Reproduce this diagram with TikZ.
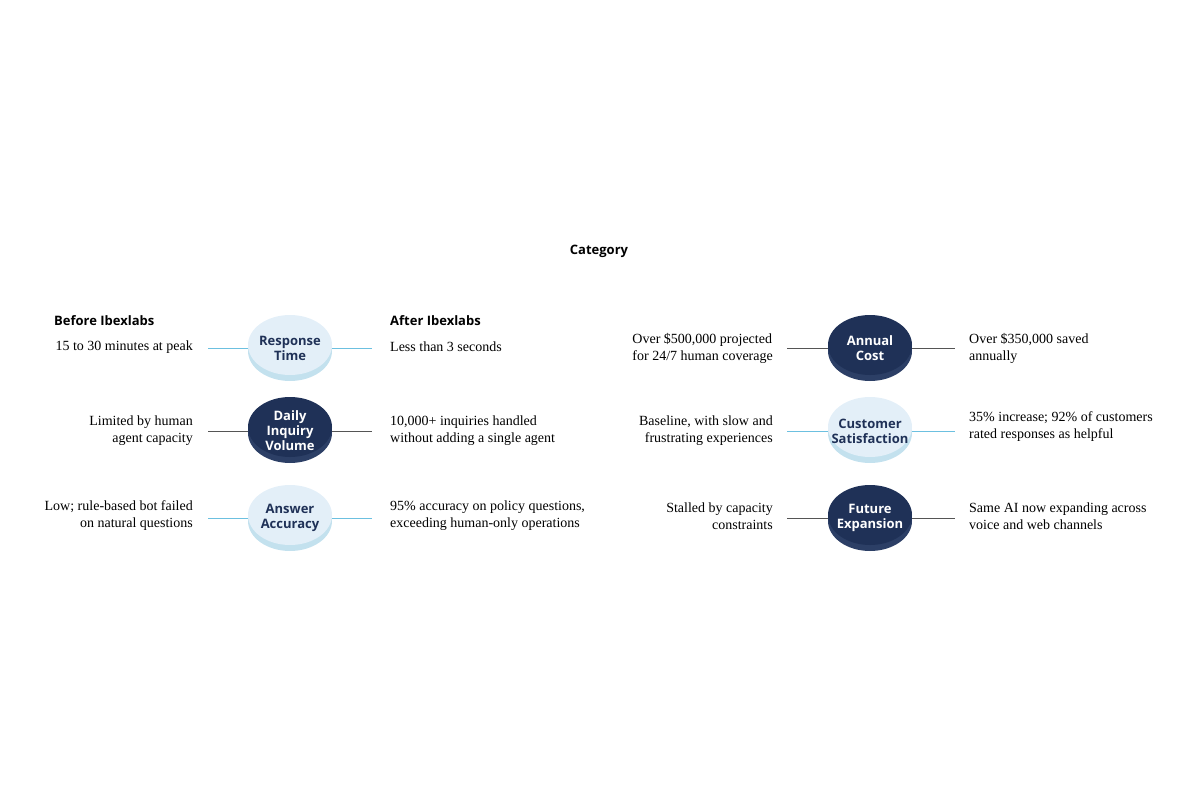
\documentclass[tikz,border=0pt]{standalone}
\usepackage{fontspec}
\setmainfont{Liberation Serif}
\setsansfont{Open Sans}
\definecolor{lt}{HTML}{E3EFF8}
\definecolor{ltb}{HTML}{C3E1EE}
\definecolor{dk}{HTML}{1F3157}
\definecolor{dkb}{HTML}{2C3F66}
\definecolor{bl}{HTML}{6CC0E0}
\definecolor{gr}{HTML}{555555}
\begin{document}
\begin{tikzpicture}[x=1pt,y=-1pt,
 txt/.style={font=\fontsize{14}{17}\selectfont,align=left,inner sep=0},
 hd/.style={font=\sffamily\bfseries\fontsize{13}{15}\selectfont,inner sep=0},
 dl/.style={font=\sffamily\bfseries\fontsize{13}{15}\selectfont,align=center,text=dk,inner sep=0},
 dd/.style={font=\sffamily\bfseries\fontsize{13}{15}\selectfont,align=center,text=white,inner sep=0},
 lb/.style={bl,line width=1pt},
 lg/.style={gr,line width=1pt}]
\useasboundingbox (0,0) rectangle (1200,800);
\newcommand\lightdisc[3]{%
 \fill[ltb] (#1,#2+6) ellipse [x radius=42,y radius=30];
 \fill[lt] (#1,#2) ellipse [x radius=42,y radius=30];
 \node[dl] (#3) at (#1,#2+3) {};}
\newcommand\darkdisc[3]{%
 \fill[dkb] (#1,#2+6) ellipse [x radius=42,y radius=30];
 \fill[dk] (#1,#2) ellipse [x radius=42,y radius=30];
 \node[dd] (#3) at (#1,#2+3) {};}
\node[hd] (cat) at (599,251) {Category};
\node[hd,anchor=west] (bef) at (54,321) {Before Ibexlabs};
\node[hd,anchor=west] (aft) at (390,321) {After Ibexlabs};
% row 1
\lightdisc{290}{345}{d1}
\node[dl] (t1) at (290,348) {Response\\Time};
\coordinate (a1) at (208,348); \coordinate (b1) at (248,348);
\coordinate (c1) at (332,348); \coordinate (e1) at (372,348);
\draw[lb] (a1)--(b1); \draw[lb] (c1)--(e1);
\node[txt,anchor=east] (l1) at (193,347) {15 to 30 minutes at peak};
\node[txt,anchor=west] (r1) at (390,347) {Less than 3 seconds};
\darkdisc{870}{345}{d2}
\node[dd] (t2) at (870,348) {Annual\\Cost};
\coordinate (a2) at (787,348); \coordinate (b2) at (828,348);
\coordinate (c2) at (912,348); \coordinate (e2) at (955,348);
\draw[lg] (a2)--(b2); \draw[lg] (c2)--(e2);
\node[txt,anchor=east,align=left] (l2) at (773,348) {Over \$500,000 projected\\for 24/7 human coverage};
\node[txt,anchor=west] (r2) at (969,348) {Over \$350,000 saved\\annually};
% row 2
\darkdisc{290}{427}{d3}
\node[dd] (t3) at (290,431) {Daily\\Inquiry\\Volume};
\coordinate (a3) at (208,431); \coordinate (b3) at (248,431);
\coordinate (c3) at (332,431); \coordinate (e3) at (372,431);
\draw[lg] (a3)--(b3); \draw[lg] (c3)--(e3);
\node[txt,anchor=east,align=right] (l3) at (193,431) {Limited by human\\agent capacity};
\node[txt,anchor=west] (r3) at (390,431) {10,000+ inquiries handled\\without adding a single agent};
\lightdisc{870}{427}{d4}
\node[dl] (t4) at (870,431) {Customer\\Satisfaction};
\coordinate (a4) at (787,431); \coordinate (b4) at (828,431);
\coordinate (c4) at (912,431); \coordinate (e4) at (955,431);
\draw[lb] (a4)--(b4); \draw[lb] (c4)--(e4);
\node[txt,anchor=east,align=right] (l4) at (773,431) {Baseline, with slow and\\frustrating experiences};
\node[txt,anchor=west] (r4) at (969,427) {35\% increase; 92\% of customers\\rated responses as helpful};
% row 3
\lightdisc{290}{515}{d5}
\node[dl] (t5) at (290,518) {Answer\\Accuracy};
\coordinate (a5) at (208,518); \coordinate (b5) at (248,518);
\coordinate (c5) at (332,518); \coordinate (e5) at (372,518);
\draw[lb] (a5)--(b5); \draw[lb] (c5)--(e5);
\node[txt,anchor=east,align=right] (l5) at (193,516) {Low; rule-based bot failed\\on natural questions};
\node[txt,anchor=west] (r5) at (390,516) {95\% accuracy on policy questions,\\exceeding human-only operations};
\darkdisc{870}{515}{d6}
\node[dd] (t6) at (870,518) {Future\\Expansion};
\coordinate (a6) at (787,518); \coordinate (b6) at (828,518);
\coordinate (c6) at (912,518); \coordinate (e6) at (955,518);
\draw[lg] (a6)--(b6); \draw[lg] (c6)--(e6);
\node[txt,anchor=east,align=right] (l6) at (773,516) {Stalled by capacity\\constraints};
\node[txt,anchor=west] (r6) at (969,516) {Same AI now expanding across\\voice and web channels};
\end{tikzpicture}
\end{document}
